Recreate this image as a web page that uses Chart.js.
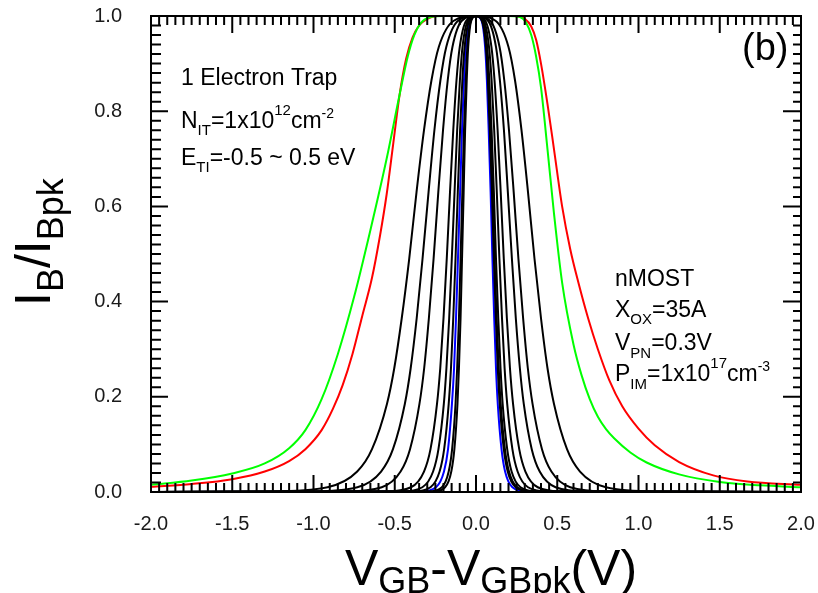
<!DOCTYPE html>
<html lang="en">
<head>
<meta charset="UTF-8">
<title>IB / IBpk vs VGB - VGBpk</title>
<script src="https://cdn.jsdelivr.net/npm/chart.js"></script>
<style>
  html, body { margin: 0; padding: 0; background: #fff; }
  canvas { display: block; }
</style>
</head>
<body>
<canvas id="ibChart" width="818" height="593"></canvas>
<script>
const FONT = '"Liberation Sans", Arial, sans-serif';

const X_TICKS = [-2.0, -1.5, -1.0, -0.5, 0.0, 0.5, 1.0, 1.5, 2.0];
const Y_TICKS = [0.0, 0.2, 0.4, 0.6, 0.8, 1.0];
const X_MINOR = 0.05;
const Y_MINOR = 0.02;

// E_TI = +/-0.5 eV (red / green), full curves
const redX = [-2.0, -1.75, -1.5, -1.3, -1.15, -1.05, -0.95, -0.88, -0.82, -0.76, -0.70, -0.64, -0.59, -0.55, -0.51, -0.47, -0.43, -0.39, -0.35, -0.30, -0.24, 0,
  0.24, 0.30, 0.34, 0.37, 0.40, 0.44, 0.48, 0.53, 0.58, 0.63, 0.69, 0.75, 0.82, 0.90, 1.0, 1.1, 1.25, 1.46, 1.67, 2.0];
const redY = [0.011, 0.017, 0.027, 0.043, 0.065, 0.09, 0.13, 0.175, 0.225, 0.29, 0.37, 0.45, 0.54, 0.625, 0.73, 0.835, 0.91, 0.955, 0.98, 0.994, 1.0, 1.0,
  1.0, 0.994, 0.978, 0.95, 0.90, 0.815, 0.72, 0.60, 0.51, 0.44, 0.365, 0.30, 0.235, 0.18, 0.133, 0.098, 0.063, 0.035, 0.022, 0.015];

const greenX = [-2.0, -1.75, -1.5, -1.3, -1.15, -1.05, -0.95, -0.85, -0.75, -0.65, -0.55, -0.47, -0.42, -0.38, -0.34, -0.29, -0.2, 0,
  0.2, 0.27, 0.31, 0.34, 0.37, 0.40, 0.44, 0.48, 0.53, 0.60, 0.65, 0.70, 0.75, 0.80, 0.85, 0.95, 1.05, 1.25, 1.5, 1.75, 2.0];
const greenY = [0.015, 0.024, 0.039, 0.06, 0.092, 0.13, 0.195, 0.29, 0.41, 0.55, 0.70, 0.835, 0.915, 0.96, 0.985, 0.997, 1.0, 1.0,
  1.0, 0.998, 0.985, 0.96, 0.915, 0.85, 0.72, 0.585, 0.44, 0.31, 0.245, 0.195, 0.158, 0.132, 0.113, 0.083, 0.062, 0.037, 0.021, 0.014, 0.010];

// narrower traps: branch positions at shared levels, outermost first
const LEVELS = [0, 0.001, 0.01, 0.043, 0.09, 0.185, 0.26, 0.365, 0.49, 0.63, 0.76, 0.865, 0.935, 0.99];
const PEAK = 1.0;

const k1L = [-2.0, -1.28, -0.914, -0.731, -0.640, -0.548, -0.503, -0.457, -0.411, -0.366, -0.320, -0.274, -0.229, -0.137];
const k1R = [2.0, 1.12, 0.80, 0.64, 0.56, 0.48, 0.44, 0.40, 0.36, 0.32, 0.28, 0.24, 0.20, 0.12];
const k2L = [-2.0, -1.022, -0.730, -0.584, -0.511, -0.438, -0.402, -0.365, -0.329, -0.292, -0.256, -0.219, -0.183, -0.110];
const k2R = [2.0, 0.812, 0.580, 0.464, 0.406, 0.348, 0.319, 0.290, 0.261, 0.232, 0.203, 0.174, 0.145, 0.087];
const k3L = [-2.0, -0.812, -0.580, -0.464, -0.406, -0.348, -0.319, -0.290, -0.261, -0.232, -0.203, -0.174, -0.145, -0.087];
const k3R = [2.0, 0.686, 0.490, 0.392, 0.343, 0.294, 0.270, 0.245, 0.221, 0.196, 0.172, 0.147, 0.123, 0.074];
const k4L = [-2.0, -0.560, -0.400, -0.320, -0.280, -0.240, -0.220, -0.200, -0.180, -0.160, -0.140, -0.120, -0.100, -0.060];
const k4R = [2.0, 0.532, 0.380, 0.304, 0.266, 0.228, 0.209, 0.190, 0.171, 0.152, 0.133, 0.114, 0.095, 0.057];
const k5L = [-2.0, -0.462, -0.330, -0.264, -0.231, -0.198, -0.182, -0.165, -0.149, -0.132, -0.116, -0.099, -0.083, -0.050];
const k5R = [2.0, 0.448, 0.320, 0.256, 0.224, 0.192, 0.176, 0.160, 0.144, 0.128, 0.112, 0.096, 0.080, 0.048];
const k6L = [-2.0, -0.294, -0.210, -0.168, -0.147, -0.126, -0.116, -0.105, -0.095, -0.084, -0.074, -0.063, -0.053, -0.032];
const k6R = [2.0, 0.356, 0.254, 0.203, 0.178, 0.152, 0.140, 0.127, 0.114, 0.102, 0.089, 0.076, 0.064, 0.038];
const k7L = [-2.0, -0.266, -0.190, -0.152, -0.133, -0.114, -0.105, -0.095, -0.086, -0.076, -0.067, -0.057, -0.048, -0.029];
const k7R = [2.0, 0.384, 0.274, 0.219, 0.192, 0.164, 0.151, 0.137, 0.123, 0.110, 0.096, 0.082, 0.069, 0.041];
const k8L = [-2.0, -0.392, -0.280, -0.224, -0.196, -0.168, -0.154, -0.140, -0.126, -0.112, -0.098, -0.084, -0.070, -0.042];
const k8R = [2.0, 0.342, 0.244, 0.195, 0.171, 0.146, 0.134, 0.122, 0.110, 0.098, 0.085, 0.073, 0.061, 0.037];
const blueL = [-2.0, -0.344, -0.246, -0.197, -0.172, -0.148, -0.135, -0.123, -0.111, -0.098, -0.086, -0.074, -0.062, -0.037];
const blueR = [2.0, 0.314, 0.224, 0.179, 0.157, 0.134, 0.123, 0.112, 0.101, 0.090, 0.078, 0.067, 0.056, 0.034];

function pairs(xs, ys) {
  return xs.map((x, i) => ({ x: x, y: ys[i] }));
}

function branches(left, right) {
  const pts = left.map((x, i) => ({ x: x, y: LEVELS[i] }));
  pts.push({ x: 0, y: PEAK });
  for (let i = right.length - 1; i >= 0; i--) pts.push({ x: right[i], y: LEVELS[i] });
  return pts;
}

function line(data, color) {
  return { data: data, borderColor: color, borderWidth: 2, pointRadius: 0, fill: false };
}

// first dataset is painted last, so green ends up on top and blue underneath
const datasets = [
  line(pairs(greenX, greenY), '#00ff00'),
  line(pairs(redX, redY), '#ff0000'),
  line(branches(k1L, k1R), '#000'),
  line(branches(k2L, k2R), '#000'),
  line(branches(k3L, k3R), '#000'),
  line(branches(k4L, k4R), '#000'),
  line(branches(k5L, k5R), '#000'),
  line(branches(k6L, k6R), '#000'),
  line(branches(k7L, k7R), '#000'),
  line(branches(k8L, k8R), '#000'),
  line(branches(blueL, blueR), '#0000ff')
];

// text runs: [text, size, baseline shift]
function rich(ctx, x, y, parts) {
  for (const [t, size, dy] of parts) {
    ctx.font = size + 'px ' + FONT;
    ctx.fillText(t, x, y + dy);
    x += ctx.measureText(t).width;
  }
}

const decor = {
  id: 'decor',
  afterDatasetsDraw(chart) {
    const { ctx, chartArea: a, scales } = chart;
    const sx = scales.x, sy = scales.y;
    ctx.save();
    ctx.strokeStyle = '#000';
    ctx.lineWidth = 2;
    ctx.strokeRect(a.left, a.top, a.right - a.left, a.bottom - a.top);

    // inward ticks on all four sides
    ctx.beginPath();
    const nx = Math.round((sx.max - sx.min) / X_MINOR);
    for (let i = 0; i <= nx; i++) {
      const px = sx.getPixelForValue(sx.min + i * X_MINOR);
      const len = i % 10 === 0 ? 17 : 9;
      ctx.moveTo(px, a.bottom); ctx.lineTo(px, a.bottom - len);
      ctx.moveTo(px, a.top); ctx.lineTo(px, a.top + len);
    }
    const ny = Math.round((sy.max - sy.min) / Y_MINOR);
    for (let i = 0; i <= ny; i++) {
      const py = sy.getPixelForValue(sy.min + i * Y_MINOR);
      const major = i % 10 === 0;
      ctx.moveTo(a.left, py); ctx.lineTo(a.left + (major ? 17 : 10), py);
      ctx.moveTo(a.right, py); ctx.lineTo(a.right - (major ? 18 : 8), py);
    }
    ctx.stroke();

    ctx.fillStyle = '#000';
    ctx.textBaseline = 'alphabetic';
    ctx.textAlign = 'left';

    // axis titles
    rich(ctx, 345, 585, [['V', 50, 0], ['GB', 36, 8], ['-', 50, 0], ['V', 50, 0], ['GBpk', 36, 8], ['(V)', 50, 0]]);
    ctx.save();
    ctx.translate(50, 306);
    ctx.rotate(-Math.PI / 2);
    rich(ctx, 0, 0, [['I', 50, 0], ['B', 36, 13], ['/', 50, 0], ['I', 50, 0], ['Bpk', 36, 13]]);
    ctx.restore();

    // notes inside the plot
    rich(ctx, 181, 85, [['1 Electron Trap', 23, 0]]);
    rich(ctx, 181, 128, [['N', 23, 0], ['IT', 15, 7], ['=1x10', 23, 0], ['12', 15, -13], ['cm', 23, 0], ['-2', 14, -10]]);
    rich(ctx, 181, 165, [['E', 23, 0], ['TI', 15, 7], ['=-0.5 ~ 0.5 eV', 23, 0]]);

    rich(ctx, 615, 286, [['nMOST', 23, 0]]);
    rich(ctx, 615, 317, [['X', 23, 0], ['OX', 15, 7], ['=35A', 23, 0]]);
    rich(ctx, 615, 350, [['V', 23, 0], ['PN', 15, 8], ['=0.3V', 23, 0]]);
    rich(ctx, 615, 381, [['P', 23, 0], ['IM', 15, 8], ['=1x10', 23, 0], ['17', 15, -13], ['cm', 23, 0], ['-3', 14, -10]]);

    rich(ctx, 742, 60, [['(b)', 38, 0]]);
    ctx.restore();
  }
};

new Chart(document.getElementById('ibChart'), {
  type: 'line',
  data: { datasets: datasets },
  options: {
    responsive: false,
    animation: false,
    layout: { padding: { top: 16, right: 17, left: 0, bottom: 0 } },
    elements: { line: { cubicInterpolationMode: 'monotone' } },
    plugins: { legend: { display: false }, tooltip: { enabled: false } },
    scales: {
      x: {
        type: 'linear', min: X_TICKS[0], max: X_TICKS[X_TICKS.length - 1],
        grid: { display: false }, border: { display: false },
        afterBuildTicks: s => { s.ticks = X_TICKS.map(v => ({ value: v })); },
        ticks: { padding: 12, color: '#1a1a1a', font: { family: FONT, size: 20 }, maxRotation: 0, autoSkip: false,
                 callback: v => Number(v).toFixed(1) },
        afterFit: s => { s.height = 101; s.paddingLeft = 0; s.paddingRight = 0; }
      },
      y: {
        type: 'linear', min: Y_TICKS[0], max: Y_TICKS[Y_TICKS.length - 1],
        grid: { display: false }, border: { display: false },
        afterBuildTicks: s => { s.ticks = Y_TICKS.map(v => ({ value: v })); },
        ticks: { padding: 21, color: '#1a1a1a', font: { family: FONT, size: 20 }, autoSkip: false,
                 callback: v => Number(v).toFixed(1) },
        afterFit: s => { s.width = 151; s.paddingTop = 0; s.paddingBottom = 0; }
      }
    }
  },
  plugins: [decor]
});
</script>
</body>
</html>
